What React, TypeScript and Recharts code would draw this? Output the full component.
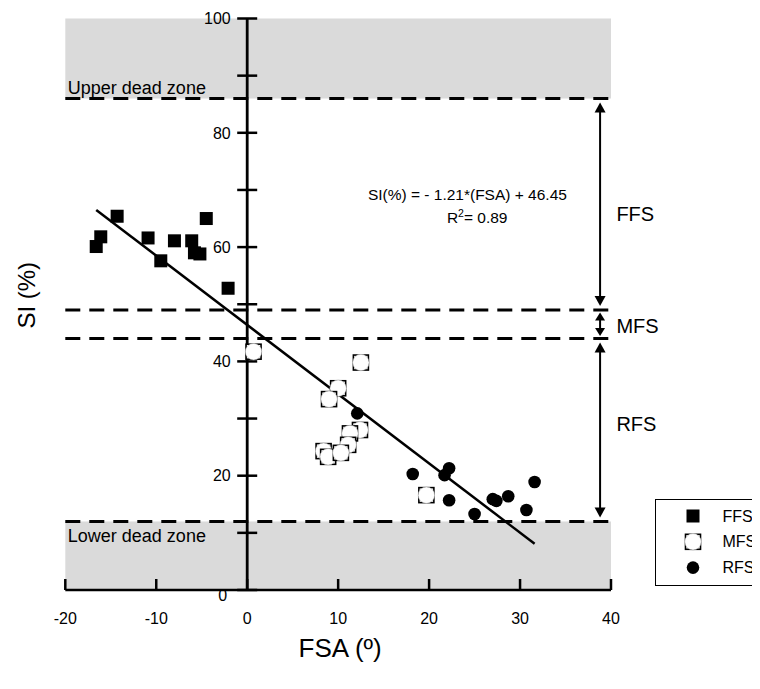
import React from 'react';
import {
  ScatterChart,
  Scatter,
  XAxis,
  YAxis,
  ReferenceArea,
  ReferenceLine,
  ReferenceDot,
  Legend,
} from 'recharts';

const FONT = '"Liberation Sans", Arial, Helvetica, sans-serif';

// ---------- data ----------
const xTicks = [-20, -10, 0, 10, 20, 30, 40];
const yTicks = [0, 10, 20, 30, 40, 50, 60, 70, 80, 90, 100];
const yTickLabels = [0, 20, 40, 60, 80, 100];

const ffsData = [
  { x: -16.6, y: 60.1 },
  { x: -16.1, y: 61.8 },
  { x: -14.3, y: 65.4 },
  { x: -10.9, y: 61.6 },
  { x: -9.5, y: 57.6 },
  { x: -8.0, y: 61.1 },
  { x: -6.1, y: 61.1 },
  { x: -5.8, y: 59.0 },
  { x: -5.2, y: 58.8 },
  { x: -4.5, y: 65.0 },
  { x: -2.1, y: 52.8 },
];

const mfsData = [
  { x: 0.7, y: 41.7 },
  { x: 12.5, y: 39.8 },
  { x: 10.0, y: 35.3 },
  { x: 9.0, y: 33.4 },
  { x: 12.4, y: 28.0 },
  { x: 11.3, y: 27.4 },
  { x: 11.1, y: 25.4 },
  { x: 8.4, y: 24.3 },
  { x: 8.9, y: 23.3 },
  { x: 10.3, y: 24.0 },
  { x: 19.7, y: 16.6 },
];

const rfsData = [
  { x: 12.1, y: 30.9 },
  { x: 18.2, y: 20.3 },
  { x: 22.2, y: 21.3 },
  { x: 21.7, y: 20.1 },
  { x: 22.2, y: 15.7 },
  { x: 25.0, y: 13.3 },
  { x: 27.0, y: 15.9 },
  { x: 27.4, y: 15.6 },
  { x: 28.7, y: 16.4 },
  { x: 30.7, y: 14.0 },
  { x: 31.6, y: 18.9 },
];

const regressionLine = [
  { x: -16.6, y: 66.5 },
  { x: 31.6, y: 8.1 },
];

const deadZones = [
  { name: 'Upper dead zone', y1: 86, y2: 100 },
  { name: 'Lower dead zone', y1: 0, y2: 12 },
];
const zoneBoundaries = [86, 49, 44, 12];
const zoneArrows = [
  { name: 'FFS', from: 86, to: 49, labelY: 65.9 },
  { name: 'MFS', from: 49, to: 44, labelY: 46.2 },
  { name: 'RFS', from: 44, to: 12, labelY: 29.1 },
];
const arrowX = 38.8;
const equationText = 'SI(%) = - 1.21*(FSA) + 46.45';
const r2Text = '0.89';
const legendItems = ['FFS', 'MFS', 'RFS'];

// ---------- shapes ----------
const FfsShape = (p: any) => (
  <rect x={p.cx - 6.5} y={p.cy - 6.5} width={13} height={13} fill="#000" />
);
const MfsShape = (p: any) => (
  <g>
    <rect
      x={p.cx - 7.5}
      y={p.cy - 7.5}
      width={15}
      height={15}
      fill="#fff"
      stroke="#000"
      strokeWidth={1.6}
    />
    <circle cx={p.cx} cy={p.cy} r={8.2} fill="#fff" stroke="#b0b0b0" strokeWidth={0.5} />
  </g>
);
const RfsShape = (p: any) => <circle cx={p.cx} cy={p.cy} r={6.3} fill="#000" />;

const XTick = (p: any) => {
  const { x, y, payload } = p;
  return (
    <g>
      <line x1={x} x2={x} y1={y} y2={y - 11} stroke="#000" strokeWidth={2.5} />
      <text
        x={x}
        y={y + 34}
        textAnchor="middle"
        fontSize={16}
        fontFamily={FONT}
        fill="#000"
      >
        {payload.value}
      </text>
    </g>
  );
};

const makeArrowShape = (small: boolean) => (p: any) => {
  const x = p.x1;
  const top = Math.min(p.y1, p.y2);
  const bottom = Math.max(p.y1, p.y2);
  const inset = small ? 2.5 : 4;
  const hw = small ? 5 : 5.5;
  const hh = small ? 8 : 10;
  const tTip = top + inset;
  const bTip = bottom - inset;
  return (
    <g>
      <line x1={x} x2={x} y1={tTip + hh - 1} y2={bTip - hh + 1} stroke="#000" strokeWidth={2} />
      <polygon points={`${x},${tTip} ${x - hw},${tTip + hh} ${x + hw},${tTip + hh}`} fill="#000" />
      <polygon points={`${x},${bTip} ${x - hw},${bTip - hh} ${x + hw},${bTip - hh}`} fill="#000" />
    </g>
  );
};

const renderLegend = () => (
  <div
    style={{
      width: 130,
      height: 87,
      border: '1.5px solid #000',
      boxSizing: 'border-box',
      background: '#fff',
    }}
  >
    <svg width={130} height={85} style={{ display: 'block' }}>
      {legendItems.map((name, i) => {
        const cy = 16 + i * 25.8;
        const cx = 37;
        let marker: React.ReactNode = null;
        if (name === 'FFS') marker = <FfsShape cx={cx} cy={cy} />;
        else if (name === 'MFS') marker = <MfsShape cx={cx} cy={cy} />;
        else marker = <RfsShape cx={cx} cy={cy} />;
        return (
          <g key={name}>
            {marker}
            <text x={66.5} y={cy + 5.5} fontSize={16} fontFamily={FONT} fill="#000">
              {name}
            </text>
          </g>
        );
      })}
    </svg>
  </div>
);

export default function App() {
  return (
    <div style={{ position: 'relative', width: 752, height: 673, overflow: 'hidden' }}>
      <ScatterChart
        width={752}
        height={673}
        margin={{ top: 10.5, right: 149, bottom: 0, left: 0 }}
        style={{ fontFamily: FONT }}
      >
        {deadZones.map((z) => (
          <ReferenceArea
            key={z.name}
            x1={-20}
            x2={40}
            y1={z.y1}
            y2={z.y2}
            fill="#dadada"
            fillOpacity={1}
            stroke="none"
          />
        ))}
        <XAxis
          type="number"
          dataKey="x"
          domain={[-20, 40]}
          ticks={xTicks}
          allowDataOverflow
          height={91}
          axisLine={{ stroke: '#000', strokeWidth: 2.5 }}
          tickLine={false}
          tickSize={0}
          tickMargin={0}
          tick={<XTick />}
          interval={0}
          label={(p: any) => {
            const vb = p.viewBox;
            return (
              <text
                x={vb.x + vb.width / 2 + 2}
                y={vb.y + 67}
                textAnchor="middle"
                fontSize={26}
                fontFamily={FONT}
                fill="#000"
              >
                FSA (º)
              </text>
            );
          }}
        />
        <YAxis
          type="number"
          dataKey="y"
          domain={[0, 100]}
          allowDataOverflow
          width={57.3}
          axisLine={false}
          tickLine={false}
          tick={false}
          label={(p: any) => {
            const vb = p.viewBox;
            const cx = vb.x + 18.7;
            const cy = vb.y + vb.height / 2 - 9;
            return (
              <text
                x={cx}
                y={cy}
                transform={`rotate(-90, ${cx}, ${cy})`}
                textAnchor="middle"
                dominantBaseline="central"
                fontSize={24}
                fontFamily={FONT}
                fill="#000"
              >
                SI (%)
              </text>
            );
          }}
        />
        {zoneBoundaries.map((b) => {
          const upper = deadZones.find((z) => z.y1 === b);
          const lower = deadZones.find((z) => z.y2 === b && z.y1 === 0);
          return (
            <ReferenceLine
              key={b}
              y={b}
              stroke="#000"
              strokeWidth={3}
              strokeDasharray="15 9"
              label={(p: any) => {
                const vb = p.viewBox;
                if (upper) {
                  return (
                    <text x={vb.x + 2.5} y={vb.y - 5} fontSize={18} fontFamily={FONT} fill="#000">
                      {upper.name}
                    </text>
                  );
                }
                if (lower) {
                  return (
                    <text x={vb.x + 2.5} y={vb.y + 21} fontSize={18} fontFamily={FONT} fill="#000">
                      {lower.name}
                    </text>
                  );
                }
                return <g />;
              }}
            />
          );
        })}
        <ReferenceLine
          segment={[
            { x: 0, y: 0 },
            { x: 0, y: 100 },
          ]}
          stroke="#000"
          strokeWidth={2.8}
        />
        {yTicks.map((v) => (
          <ReferenceDot
            key={`yt${v}`}
            x={0}
            y={v}
            r={1}
            ifOverflow="visible"
            shape={(p: any) => (
              <g>
                <line x1={p.cx - 10} x2={p.cx + 10} y1={p.cy} y2={p.cy} stroke="#000" strokeWidth={2.5} />
                {yTickLabels.includes(v) ? (
                  <text
                    x={v === 0 ? p.cx - 20 : p.cx - 16.5}
                    y={v === 0 ? p.cy + 11 : p.cy + 5.7}
                    textAnchor="end"
                    fontSize={16}
                    fontFamily={FONT}
                    fill="#000"
                  >
                    {v}
                  </text>
                ) : null}
              </g>
            )}
          />
        ))}
        <ReferenceLine
          segment={regressionLine}
          stroke="#000"
          strokeWidth={2.5}
        />
        <ReferenceDot
          x={13.27}
          y={68.2}
          r={1}
          shape={(p: any) => (
            <g>
              <text x={p.cx} y={p.cy} fontSize={15.5} fontFamily={FONT} fill="#000">
                {equationText}
              </text>
              <text x={p.cx + 79} y={p.cy + 23} fontSize={15.5} fontFamily={FONT} fill="#000">
                R
                <tspan dy={-6} fontSize={10.5}>
                  2
                </tspan>
                <tspan dy={6}>= {r2Text}</tspan>
              </text>
            </g>
          )}
        />
        {zoneArrows.map((a) => (
          <ReferenceLine
            key={`arr${a.name}`}
            segment={[
              { x: arrowX, y: a.from },
              { x: arrowX, y: a.to },
            ]}
            stroke="#000"
            shape={makeArrowShape(a.name === 'MFS')}
          />
        ))}
        {zoneArrows.map((a) => (
          <ReferenceDot
            key={`lab${a.name}`}
            x={arrowX}
            y={a.labelY}
            r={1}
            shape={(p: any) => (
              <text x={p.cx + 16.3} y={p.cy + 7.2} fontSize={20} fontFamily={FONT} fill="#000">
                {a.name}
              </text>
            )}
          />
        ))}
        <Scatter name="FFS" data={ffsData} shape={FfsShape} isAnimationActive={false} />
        <Scatter name="MFS" data={mfsData} shape={MfsShape} isAnimationActive={false} />
        <Scatter name="RFS" data={rfsData} shape={RfsShape} isAnimationActive={false} />
        <Legend
          layout="vertical"
          align="center"
          verticalAlign="middle"
          content={renderLegend}
          wrapperStyle={{ left: 647, top: 491.3, width: 130, height: 87 }}
        />
      </ScatterChart>
    </div>
  );
}
